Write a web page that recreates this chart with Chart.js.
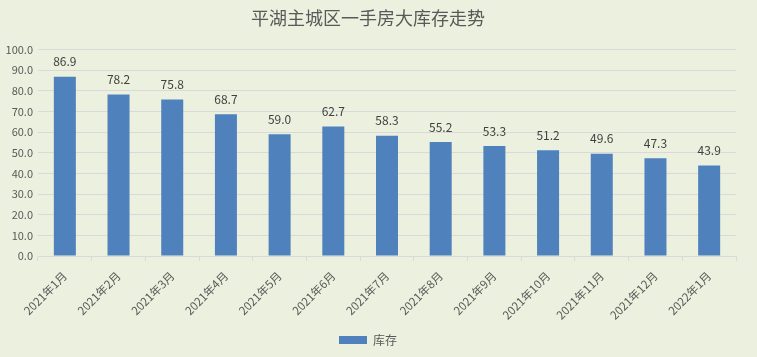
<!DOCTYPE html>
<html><head><meta charset="utf-8">
<script src="https://cdn.jsdelivr.net/npm/chart.js@4/dist/chart.umd.min.js"></script>
<style>html,body{margin:0;padding:0;background:#EBF1DE;}#wrap{width:757px;height:357px;}</style>
</head><body><div id="wrap"><canvas id="c" width="757" height="357"></canvas></div>
<script>
const categories = ["2021年1月","2021年2月","2021年3月","2021年4月","2021年5月","2021年6月","2021年7月","2021年8月","2021年9月","2021年10月","2021年11月","2021年12月","2022年1月"];
const inventory = [86.9,78.2,75.8,68.7,59.0,62.7,58.3,55.2,53.3,51.2,49.6,47.3,43.9];
const yTicks = [0,10,20,30,40,50,60,70,80,90,100];

const FONT = "'Noto Sans CJK SC','Liberation Sans',sans-serif";
const valueLabels = {
  id:'valueLabels',
  afterDatasetsDraw(chart){
    const ctx = chart.ctx;
    const meta = chart.getDatasetMeta(0);
    ctx.save();
    ctx.font = "12px " + FONT;
    ctx.fillStyle = '#404040';
    ctx.textAlign = 'center';
    ctx.textBaseline = 'bottom';
    meta.data.forEach((bar,i)=>{
      ctx.fillText(inventory[i].toFixed(1), bar.x, bar.y - 9);
    });
    ctx.restore();
  }
};
new Chart(document.getElementById('c'),{
  type:'bar',
  data:{labels:categories,datasets:[{label:'库存',data:inventory,backgroundColor:'#4F81BD',borderWidth:0,barPercentage:0.82,categoryPercentage:0.5}]},
  options:{
    responsive:false,animation:false,
    layout:{padding:{left:0,right:21,top:7,bottom:1}},
    plugins:{
      title:{display:true,text:'平湖主城区一手房大库存走势',color:'#595959',font:{family:FONT,size:18,weight:'normal'},padding:{top:0,bottom:21}},
      legend:{position:'bottom',labels:{color:'#595959',font:{family:FONT,size:12},boxWidth:28,boxHeight:8,padding:10}},
      tooltip:{enabled:false}
    },
    scales:{
      x:{
        grid:{display:true,drawOnChartArea:false,color:'#D9D9D9',tickLength:5,offset:true},
        border:{color:'#D9D9D9'},
        ticks:{color:'#595959',font:{family:FONT,size:11.5},minRotation:45,maxRotation:45,padding:8},
        afterFit(s){s.height=68;}
      },
      y:{
        min:0,max:100,
        afterBuildTicks(s){s.ticks=yTicks.map(v=>({value:v}));},
        grid:{color:'#D9D9D9',drawTicks:false},
        border:{display:false},
        ticks:{color:'#595959',font:{family:FONT,size:11},padding:5,callback:v=>Number(v).toFixed(1)},
        afterFit(s){s.width=38;}
      }
    }
  },
  plugins:[valueLabels]
});
</script></body></html>
